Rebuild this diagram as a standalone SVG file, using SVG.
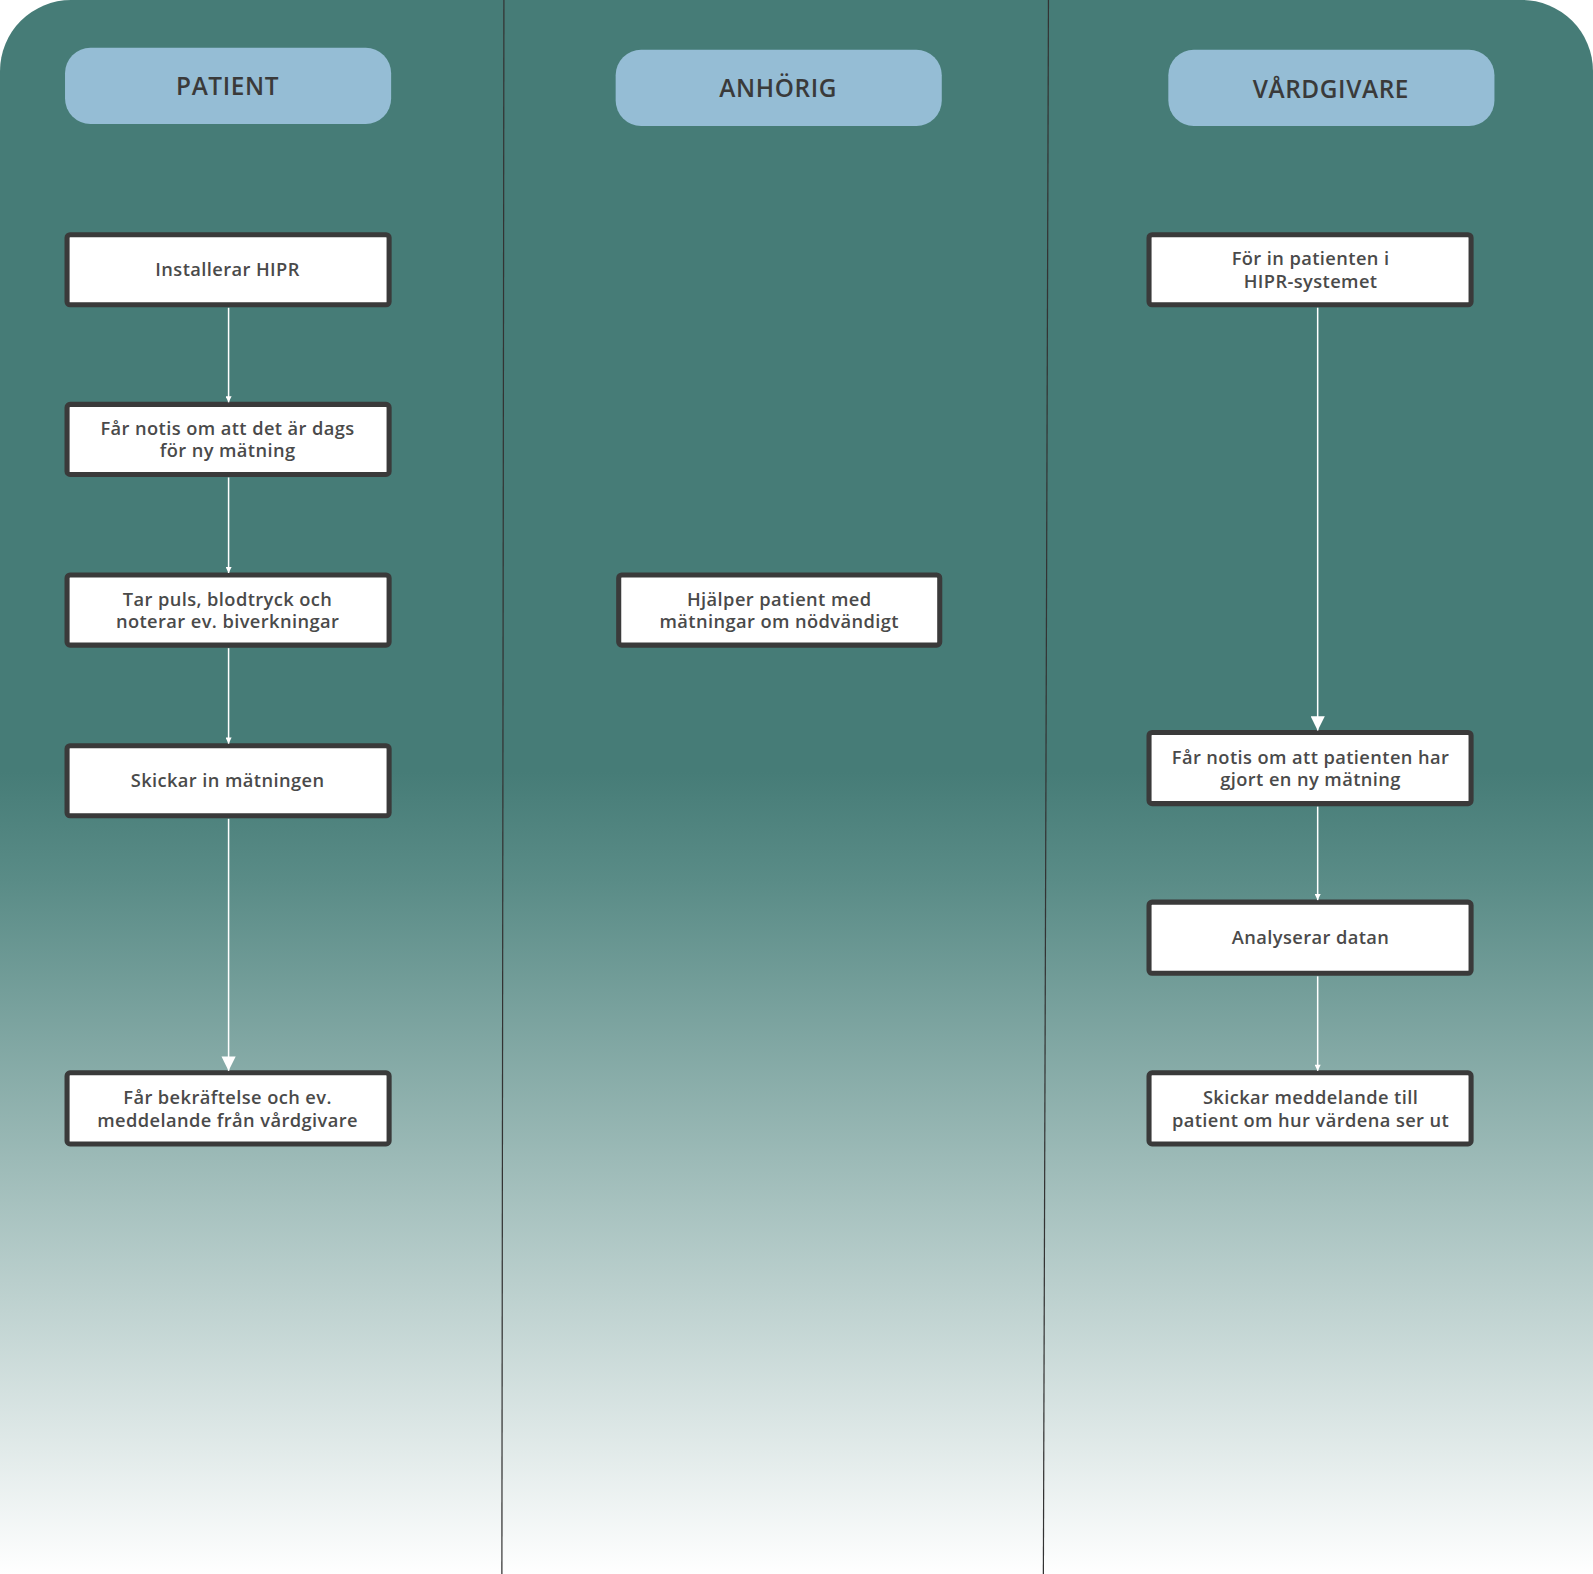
<svg xmlns="http://www.w3.org/2000/svg" width="1593" height="1574" viewBox="0 0 1593 1574">
<defs>
<linearGradient id="bg" x1="0" y1="0" x2="0" y2="1550" gradientUnits="userSpaceOnUse">
<stop offset="0" stop-color="#467c77"/><stop offset="0.49" stop-color="#467c77"/><stop offset="0.56" stop-color="#5a8c87"/><stop offset="1" stop-color="#ffffff"/>
</linearGradient>
<marker id="s" viewBox="0 0 10 10" refX="10" refY="5" markerWidth="14" markerHeight="6" markerUnits="userSpaceOnUse" orient="auto"><path d="M0,0L10,5L0,10z" fill="#fff"/></marker>
<marker id="b" viewBox="0 0 10 10" refX="10" refY="5" markerWidth="18" markerHeight="14" markerUnits="userSpaceOnUse" orient="auto"><path d="M0,0L10,5L0,10z" fill="#fff"/></marker>
</defs>
<style>
.h{fill:#95bdd5}
.ht{font-family:"Open Sans",sans-serif;font-weight:600;font-size:24px;letter-spacing:0.6px;fill:#3a3a3a;text-anchor:middle}
.n{fill:#fff;stroke:#3a3a3a;stroke-width:5}
.t{font-family:"Open Sans",sans-serif;font-weight:600;font-size:18px;letter-spacing:0.4px;fill:#4a4a4a;text-anchor:middle}
.c{stroke:#fff;stroke-width:1.5;fill:none}
</style>
<g transform="scale(1.01594)">
<path d="M70,0H1498A70,70 0 0 1 1568,70V1550H0V70A70,70 0 0 1 70,0z" fill="url(#bg)"/>
<line x1="496" y1="0" x2="494" y2="1550" stroke="#333" stroke-width="1.2"/>
<line x1="1032" y1="0" x2="1027" y2="1550" stroke="#333" stroke-width="1.2"/>
<g id="h1"><rect class="h" x="64" y="47" width="321" height="75" rx="25"/><text class="ht" x="224" y="94">PATIENT</text></g>
<g id="h2"><rect class="h" x="606" y="49" width="321" height="75" rx="25"/><text class="ht" x="766" y="95">ANHÖRIG</text></g>
<g id="h3"><rect class="h" x="1150" y="49" width="321" height="75" rx="25"/><text class="ht" x="1310" y="96">VÅRDGIVARE</text></g>
<g id="p1"><rect class="n" x="66" y="231" width="317" height="69" rx="3"/><text class="t" x="224" y="272">Installerar HIPR</text></g>
<g id="p2"><rect class="n" x="66" y="398" width="317" height="69" rx="3"/><text class="t" x="224" y="428">Får notis om att det är dags</text><text class="t" x="224" y="450">för ny mätning</text></g>
<g id="p3"><rect class="n" x="66" y="566" width="317" height="69" rx="3"/><text class="t" x="224" y="596">Tar puls, blodtryck och</text><text class="t" x="224" y="618">noterar ev. biverkningar</text></g>
<g id="p4"><rect class="n" x="66" y="734" width="317" height="69" rx="3"/><text class="t" x="224" y="775">Skickar in mätningen</text></g>
<g id="p5"><rect class="n" x="66" y="1056" width="317" height="70" rx="3"/><text class="t" x="224" y="1087">Får bekräftelse och ev.</text><text class="t" x="224" y="1109">meddelande från vårdgivare</text></g>
<g id="a1"><rect class="n" x="609" y="566" width="316" height="69" rx="3"/><text class="t" x="767" y="596">Hjälper patient med</text><text class="t" x="767" y="618">mätningar om nödvändigt</text></g>
<g id="v1"><rect class="n" x="1131" y="231" width="317" height="69" rx="3"/><text class="t" x="1290" y="261">För in patienten i</text><text class="t" x="1290" y="283">HIPR-systemet</text></g>
<g id="v2"><rect class="n" x="1131" y="721" width="317" height="70" rx="3"/><text class="t" x="1290" y="752">Får notis om att patienten har</text><text class="t" x="1290" y="774">gjort en ny mätning</text></g>
<g id="v3"><rect class="n" x="1131" y="888" width="317" height="70" rx="3"/><text class="t" x="1290" y="929">Analyserar datan</text></g>
<g id="v4"><rect class="n" x="1131" y="1056" width="317" height="70" rx="3"/><text class="t" x="1290" y="1087">Skickar meddelande till</text><text class="t" x="1290" y="1109">patient om hur värdena ser ut</text></g>
<g id="connectors">
<line class="c" x1="225" y1="303" x2="225" y2="396" marker-end="url(#s)"/>
<line class="c" x1="225" y1="470" x2="225" y2="564" marker-end="url(#s)"/>
<line class="c" x1="225" y1="638" x2="225" y2="732" marker-end="url(#s)"/>
<line class="c" x1="225" y1="806" x2="225" y2="1054" marker-end="url(#b)"/>
<line class="c" x1="1297" y1="303" x2="1297" y2="719" marker-end="url(#b)"/>
<line class="c" x1="1297" y1="794" x2="1297" y2="886" marker-end="url(#s)"/>
<line class="c" x1="1297" y1="961" x2="1297" y2="1054" marker-end="url(#s)"/>
</g>
</g>
</svg>
